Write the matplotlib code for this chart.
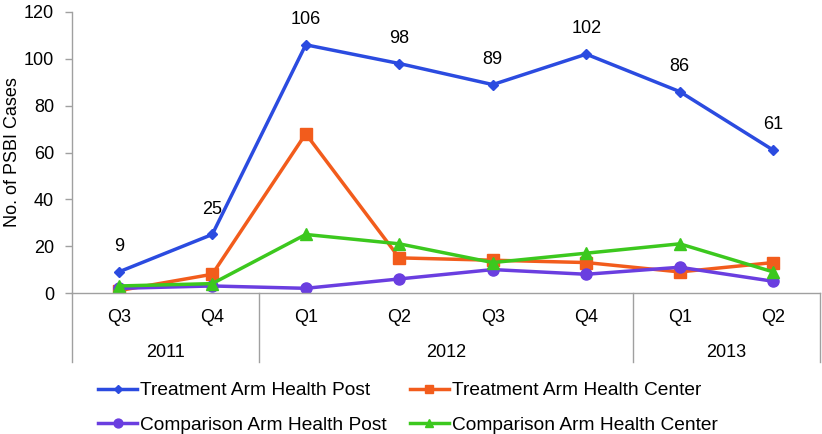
import matplotlib.pyplot as plt
import matplotlib.transforms as mtransforms

plt.rcParams['font.family'] = ['Liberation Sans', 'DejaVu Sans']

quarters = ['Q3', 'Q4', 'Q1', 'Q2', 'Q3', 'Q4', 'Q1', 'Q2']
years = ['2011', '2012', '2013']
year_spans = [2, 4, 2]

treat_post = [9, 25, 106, 98, 89, 102, 86, 61]
treat_center = [1, 8, 68, 15, 14, 13, 9, 13]
comp_post = [2, 3, 2, 6, 10, 8, 11, 5]
comp_center = [3, 4, 25, 21, 13, 17, 21, 9]

fig = plt.figure(figsize=(8.22, 4.34), dpi=100)
ax = fig.add_axes([72/822, 1 - 293/434, 748/822, 281/434])

x = list(range(len(quarters)))
l1, = ax.plot(x, treat_post, color='#2b4be0', marker='D', markersize=5, lw=2.5,
              label='Treatment Arm Health Post')
l2, = ax.plot(x, treat_center, color='#f25c1c', marker='s', markersize=8, lw=2.5,
              label='Treatment Arm Health Center')
l3, = ax.plot(x, comp_post, color='#6a3ee0', marker='o', markersize=8, lw=2.5,
              label='Comparison Arm Health Post')
l4, = ax.plot(x, comp_center, color='#3cc81e', marker='^', markersize=8, lw=2.5,
              label='Comparison Arm Health Center')

# data labels for the treatment health post series
for xi, v in zip(x, treat_post):
    ax.annotate(str(v), (xi, v), xytext=(0, 12), textcoords='offset points',
                ha='center', va='bottom', fontsize=13)

ax.set_xlim(-0.5, len(quarters) - 0.5)
ax.set_ylim(0, 120)
ax.set_yticks(range(0, 121, 20))
ax.tick_params(axis='y', labelsize=13, length=5, width=1, color='#a0a0a0', pad=8)
ax.set_xticks([])
ax.set_ylabel('No. of PSBI Cases', fontsize=13)
ax.yaxis.set_label_coords(-0.068, 0.5)
for s in ['top', 'right']:
    ax.spines[s].set_visible(False)
for s in ['left', 'bottom']:
    ax.spines[s].set_color('#a0a0a0')
    ax.spines[s].set_linewidth(1)

# two-level category axis
trans = mtransforms.blended_transform_factory(ax.transData, ax.transAxes)
for xi, q in zip(x, quarters):
    ax.text(xi, -0.088, q, transform=trans, ha='center', va='center', fontsize=13)
start = -0.5
bounds = [start]
for yr, span in zip(years, year_spans):
    ax.text(start + span / 2, -0.21, yr, transform=trans, ha='center', va='center',
            fontsize=13)
    start += span
    bounds.append(start)
for b in bounds:
    ax.plot([b, b], [0, -0.246], transform=trans, color='#a0a0a0', lw=1, clip_on=False)

fig.legend([l1, l3, l2, l4], [l1.get_label(), l3.get_label(), l2.get_label(), l4.get_label()],
           loc='upper left', bbox_to_anchor=(98/822, 1 - 382/434), ncol=2, frameon=False,
           fontsize=13.8, handlelength=2.05, handletextpad=0.15, columnspacing=1.2,
           labelspacing=0.9, borderaxespad=0, borderpad=0, markerscale=0.8)

fig.savefig('out.png', dpi=100)
